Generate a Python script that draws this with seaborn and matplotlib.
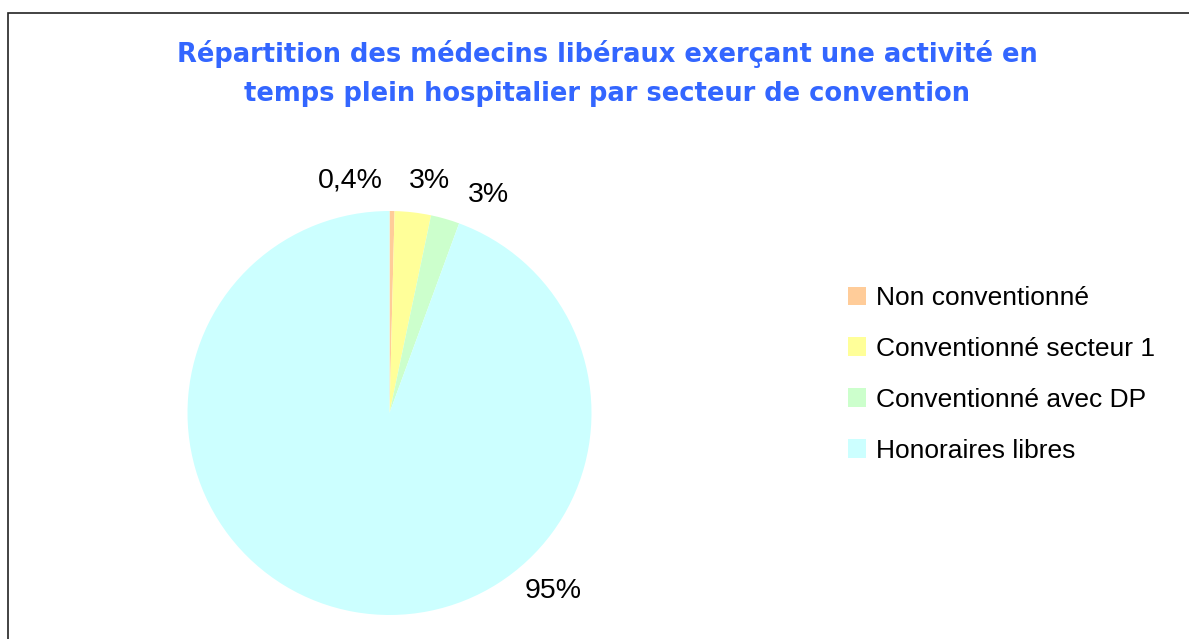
import matplotlib
matplotlib.use("Agg")
import matplotlib.pyplot as plt
import seaborn as sns
from matplotlib.patches import Patch, Rectangle

# data
secteurs = ["Non conventionné", "Conventionné secteur 1", "Conventionné avec DP", "Honoraires libres"]
parts = [0.4, 2.9, 2.3, 94.4]
labels_pct = ["0,4%", "3%", "3%", "95%"]
couleurs = ["#FFCC99", "#FFFF99", "#CCFFCC", "#CCFFFF"]

# label baselines, in pie radius units
label_pos = [(-0.193, 1.114), (0.200, 1.114), (0.488, 1.045), (0.812, -0.916)]

sns.set_theme(style="white")
plt.rcParams["font.family"] = ["Liberation Sans", "DejaVu Sans"]
plt.rcParams["text.color"] = "black"

W, H = 1189, 639
fig = plt.figure(figsize=(W / 100, H / 100), dpi=100)
fig.patch.set_facecolor("white")

# outer frame of the chart area
fig.add_artist(Rectangle((8 / W, -0.1), 1.2, 1.1 - 13 / H, transform=fig.transFigure,
                         fill=False, edgecolor="#222222", linewidth=1.2))

cx, cy, r = 389.5, 413, 202
ax = fig.add_axes([(cx - r) / W, (H - cy - r) / H, 2 * r / W, 2 * r / H])
wedges, _ = ax.pie(parts, colors=couleurs, startangle=90, counterclock=False,
                   wedgeprops={"linewidth": 0})
ax.set_xlim(-1, 1)
ax.set_ylim(-1, 1)
ax.set_aspect("equal")
ax.axis("off")

for txt, (x, y) in zip(labels_pct, label_pos):
    ax.text(x, y, txt, ha="center", va="baseline", fontsize=20.5, color="black", clip_on=False)

titre = ["Répartition des médecins libéraux exerçant une activité en",
         "temps plein hospitalier par secteur de convention"]
for i, ligne in enumerate(titre):
    fig.text(607 / W, 1 - (62 + 39 * i) / H, ligne, ha="center", va="baseline",
             fontsize=18.5, fontweight="bold", color="#3366FF", family="DejaVu Sans")

handles = [Patch(facecolor=c, edgecolor="none") for c in couleurs]
fig.legend(handles, secteurs, loc="upper left", bbox_to_anchor=(848 / W, 1 - 286 / H),
           frameon=False, fontsize=19, handlelength=0.7, handleheight=0.7,
           handletextpad=0.35, labelspacing=1.02, borderpad=0, borderaxespad=0,
           labelcolor="black")

fig.savefig("out.png", dpi=100)
